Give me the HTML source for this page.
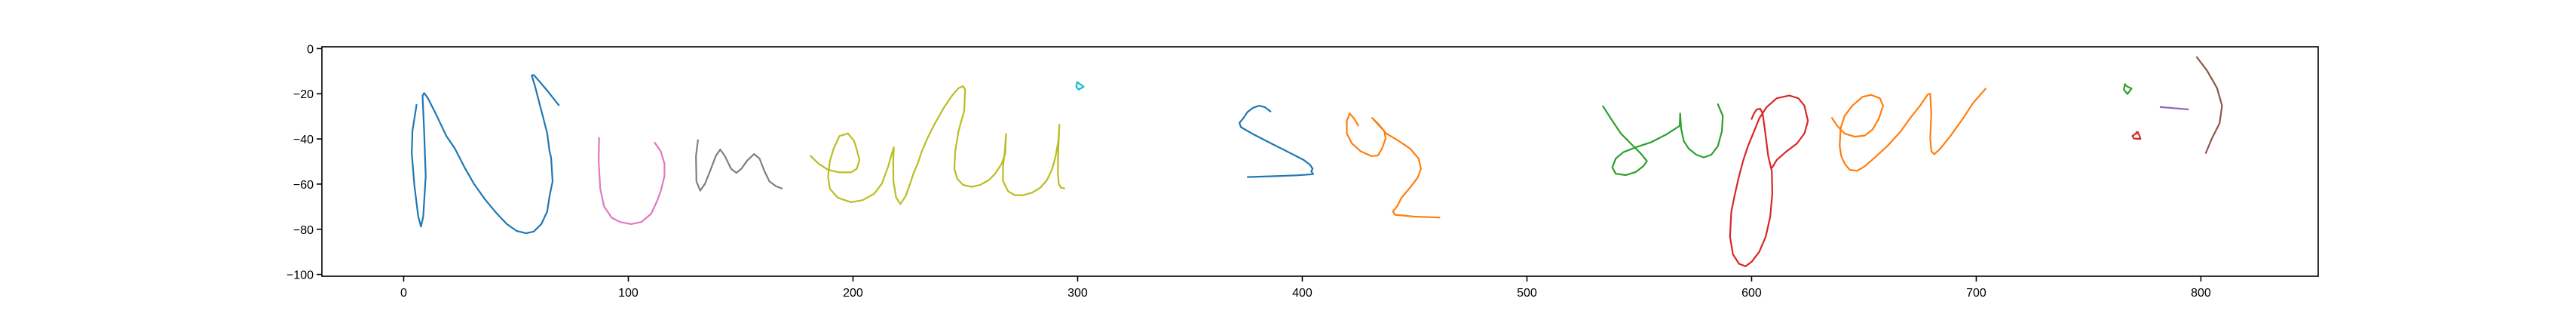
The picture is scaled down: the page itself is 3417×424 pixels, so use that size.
<!DOCTYPE html>
<html><head><meta charset="utf-8"><style>
html,body{margin:0;padding:0;background:#fff;}
svg{display:block;font-family:"Liberation Sans","DejaVu Sans",sans-serif;}
</style></head><body>
<svg id="chart" width="3417" height="424" viewBox="0 0 3417 424" xmlns="http://www.w3.org/2000/svg">
<rect x="0" y="0" width="3417" height="424" fill="#fff"/>
<g id="strokes"></g>
<g id="axes"></g>
</svg>
<script>
const xTicks = [0,100,200,300,400,500,600,700,800];
const yTicks = [0,-20,-40,-60,-80,-100];
const strokeColors = ["#1f77b4","#e377c2","#7f7f7f","#bcbd22","#17becf","#1f77b4","#ff7f0e","#2ca02c","#d62728","#ff7f0e","#2ca02c","#d62728","#9467bd","#8c564b"];
const strokeNames = ["stroke-n","stroke-u","stroke-m","stroke-erlui","stroke-dot-i","stroke-s","stroke-z","stroke-su","stroke-p","stroke-er","stroke-colon-top","stroke-colon-bottom","stroke-dash","stroke-paren"];
const strokeX = [
[5.7,3.9,3.6,4.8,6.5,7.7,8.7,9.8,9.1,8.4,9.1,10.8,14.2,19.0,22.8,27.1,31.3,36.1,41.6,45.9,50.2,54.5,57.9,61.3,63.9,64.9,66.3,65.6,64.9,63.9,62.2,60.4,58.4,57.0,57.9,59.6,63.9,69.0],
[87.0,86.8,87.5,89.2,92.6,96.4,101.2,105.8,110.1,112.7,114.4,116.1,116.1,114.4,111.8],
[131.0,130.1,130.3,132.0,134.1,136.6,138.9,140.9,143.0,145.7,148.1,150.3,152.9,156.0,158.4,160.6,162.8,165.8,168.3],
[181.2,184.6,188.9,194.0,199.1,201.7,202.9,201.7,200.5,197.8,194.0,191.4,189.7,188.9,189.7,193.2,199.1,204.3,209.4,212.8,215.7,217.3,218.2,217.9,218.0,219.2,221.1,223.4,225.0,226.9,228.8,230.7,233.6,236.5,240.3,244.1,247.0,249.0,249.9,249.5,247.0,245.5,245.1,246.4,249.0,252.8,256.6,260.5,263.3,266.2,267.8,268.1,267.6,266.8,266.8,269.1,272.0,275.8,279.7,283.5,286.4,288.7,290.2,291.4,291.9,291.4,291.2,291.6,292.5,294.0],
[299.8,299.4,300.4,302.7,301.2,299.8],
[385.8,383.3,380.8,378.1,375.6,373.7,372.0,372.7,378.5,386.2,393.9,400.6,403.5,404.6,404.0,404.8,397.7,388.1,375.8],
[424.9,423.0,421.1,419.8,419.8,422.1,425.9,430.7,433.6,435.5,437.1,436.5,433.6,431.1,437.4,442.2,448.0,451.8,452.8,451.4,448.0,444.2,442.2,440.3,441.3,449.9,461.0],
[533.9,537.3,541.8,546.2,550.7,553.4,551.8,548.5,544.0,539.5,538.0,539.5,542.9,548.5,555.2,561.9,568.0,568.2,568.6,569.8,572.0,575.4,578.7,582.1,585.0,586.8,587.2,585.0],
[600,601.1,602.2,603.8,604.9,606.0,607.4,609.0,609.2,608.3,606.3,603.4,600,597.3,594.4,591.7,590.4,591.0,592.6,594.4,596.2,598.4,600.7,603.4,606.7,611.2,616.8,620.8,623.5,625.1,623.5,620.2,615.7,611.2,609.2],
[635.8,638.1,641.4,645.9,650.4,653.8,656.7,658.5,657.1,653.1,649.3,644.8,641.4,639.6,639.2,639.9,641.4,643.7,647.0,650.4,654.9,660.5,666.1,670.5,675.0,678.4,679.5,680.0,679.5,680.0,681.3,684.0,688.5,694.1,698.5,704.1],
[766.2,765.7,767.3,769.1,766.9,766.2],
[772.0,769.5,770.2,773.1,772.5,771.3],
[782.1,794.2],
[798.2,802.7,807.2,809.4,808.3,804.9,802.2]
];
const strokeY = [
[-25.0,-36.5,-46.5,-61.0,-74.4,-78.8,-74.4,-56.5,-36.5,-20.8,-19.7,-22.0,-28.7,-38.7,-44.3,-52.6,-59.9,-66.6,-73.2,-77.7,-80.7,-81.8,-81.0,-77.7,-72.1,-65.4,-58.8,-48.2,-45.4,-37.6,-30.9,-24.2,-16.4,-11.9,-11.7,-13.6,-18.6,-25.0],
[-39.6,-49.8,-62.1,-69.9,-74.9,-76.8,-77.7,-76.8,-73.2,-67.7,-63.2,-56.5,-50.9,-45.4,-41.7],
[-40.6,-47.6,-58.8,-62.9,-59.9,-53.7,-47.6,-44.7,-47.6,-53.2,-55.0,-53.2,-49.6,-46.7,-48.7,-54.3,-58.8,-61.0,-61.9],
[-47.6,-50.9,-53.7,-54.8,-54.8,-53.2,-49.3,-44.8,-40.9,-37.6,-38.7,-44.3,-49.8,-56.5,-62.1,-66.0,-68.0,-67.1,-64.3,-59.9,-52.1,-46.5,-43.7,-49.8,-58.8,-66.0,-68.8,-65.4,-61.0,-55.4,-50.9,-45.4,-38.7,-33.1,-26.4,-20.8,-17.5,-16.6,-18.1,-27.5,-36.5,-45.4,-53.2,-57.6,-60.4,-61.2,-60.4,-58.2,-55.4,-50.9,-46.5,-37.8,-45.4,-52.1,-58.8,-63.2,-64.9,-64.9,-63.8,-61.5,-58.2,-53.2,-47.6,-40.9,-33.7,-44.3,-54.3,-59.9,-61.5,-61.9],
[-14.9,-16.9,-18.1,-16.9,-15.8,-14.9],
[-27.8,-25.9,-25.3,-26.2,-28.1,-30.9,-32.9,-34.8,-38.1,-42.0,-45.9,-49.3,-51.5,-53.2,-54.3,-55.6,-56.1,-56.5,-56.9],
[-34.0,-30.9,-28.7,-32.0,-37.6,-42.0,-45.4,-47.6,-47.4,-44.3,-39.8,-36.5,-33.1,-30.7,-37.6,-40.4,-44.3,-48.7,-53.2,-57.1,-61.5,-66.0,-69.9,-72.1,-73.6,-74.4,-74.8],
[-25.6,-30.9,-37.6,-42.0,-46.5,-49.8,-52.1,-54.6,-56.0,-55.4,-52.6,-48.7,-45.9,-43.7,-41.5,-38.1,-34.2,-28.7,-35.3,-40.9,-44.3,-47.0,-48.2,-47.0,-43.1,-36.5,-29.8,-24.7],
[-31.1,-28.7,-27.0,-26.6,-28.7,-36.5,-47.6,-54.3,-64.3,-74.4,-83.3,-90.0,-94.4,-96.4,-95.3,-91.1,-83.3,-72.1,-64.3,-56.5,-49.8,-43.1,-37.6,-30.9,-25.9,-22.0,-20.8,-22.0,-25.3,-32.0,-37.6,-42.0,-45.4,-49.3,-52.6],
[-30.7,-34.2,-37.6,-39.0,-38.5,-35.9,-30.9,-25.3,-22.0,-20.5,-21.4,-25.3,-29.8,-35.3,-43.1,-47.6,-50.9,-53.7,-54.1,-52.1,-48.2,-43.1,-37.0,-30.9,-25.3,-20.3,-20.0,-28.7,-39.8,-45.4,-46.8,-44.3,-38.7,-30.9,-24.2,-17.8],
[-15.8,-18.1,-20.1,-17.7,-16.6,-15.8],
[-37.0,-38.7,-39.8,-40.0,-38.1,-37.0],
[-25.9,-26.9],
[-3.8,-9.7,-17.5,-25.3,-33.1,-39.8,-46.2]
];
const NS="http://www.w3.org/2000/svg";
const AX={left:427,right:3075,top:62,bottom:366};
const xMin=-36.4, xMax=852.2;
const yMin=-100.8, yMax=0.8;
function sx(v){return AX.left+(v-xMin)/(xMax-xMin)*(AX.right-AX.left);}
function sy(v){return AX.bottom-(v-yMin)/(yMax-yMin)*(AX.bottom-AX.top);}
function mk(tag,attrs,parent){const e=document.createElementNS(NS,tag);for(const k in attrs)e.setAttribute(k,attrs[k]);parent.appendChild(e);return e;}
const gS=document.getElementById('strokes');
const gA=document.getElementById('axes');
for(let i=0;i<strokeX.length;i++){
  const pts=strokeX[i].map((x,j)=>sx(x).toFixed(1)+','+sy(strokeY[i][j]).toFixed(1)).join(' ');
  const pl=mk('polyline',{points:pts,fill:'none',stroke:strokeColors[i],'stroke-width':2.2,'stroke-linejoin':'round','stroke-linecap':'square'},gS);
  
  
}
const frame=mk('rect',{x:AX.left,y:AX.top,width:AX.right-AX.left,height:AX.bottom-AX.top,fill:'none',stroke:'#000','stroke-width':1.6},gA);


xTicks.forEach(v=>{
  const x=sx(v);
  const t=mk('line',{x1:x,x2:x,y1:AX.bottom,y2:AX.bottom+7,stroke:'#000','stroke-width':1.6},gA);
  
  
  const l=mk('text',{x:x,y:AX.bottom+27,'text-anchor':'middle','font-size':16,fill:'#000'},gA);
  l.textContent=String(v);
  
  
});
yTicks.forEach(v=>{
  const y=sy(v);
  const t=mk('line',{x1:AX.left-7,x2:AX.left,y1:y,y2:y,stroke:'#000','stroke-width':1.6},gA);
  
  
  const l=mk('text',{x:AX.left-11,y:y+6,'text-anchor':'end','font-size':16,fill:'#000'},gA);
  l.textContent=(v<0?'\u2212'+Math.abs(v):String(v));
  
  
});
</script>
</body></html>
